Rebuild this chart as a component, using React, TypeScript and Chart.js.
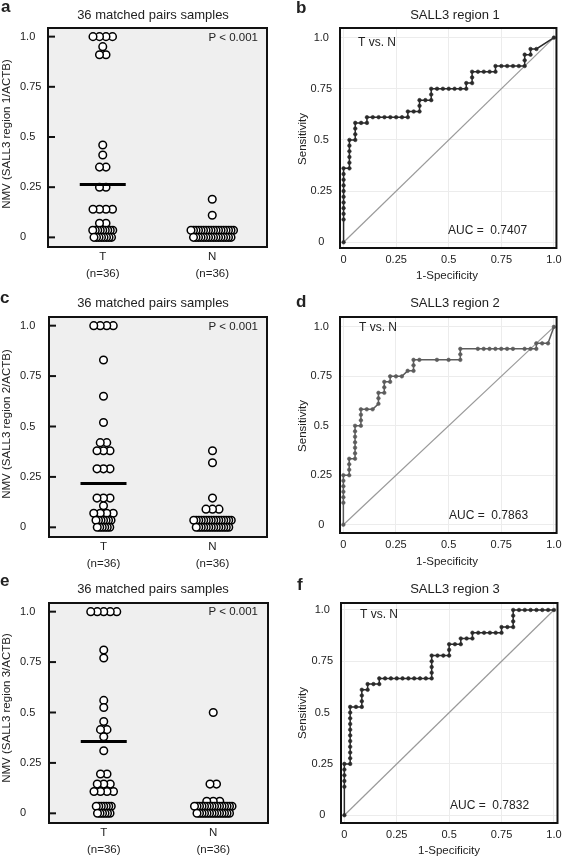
import React, { useEffect, useRef } from 'react';
import { Chart, registerables } from 'chart.js';

Chart.register(...registerables);

// ---------------- data ----------------
const groupLabels = [['T', '(n=36)'], ['N', '(n=36)']];
const scatterTitle = '36 matched pairs samples';
const pValueText = 'P < 0.001';
const nmvAxisTitles = ['NMV (SALL3 region 1/ACTB)', 'NMV (SALL3 region 2/ACTB)', 'NMV (SALL3 region 3/ACTB)'];
const yTickValues = [0, 0.25, 0.5, 0.75, 1];

// normalized methylation values, tumour (T) and normal (N)
const nmvRegion1T = [1, 1, 1, 1, 0.95, 0.91, 0.91, 0.46, 0.41, 0.35, 0.35, 0.25, 0.25, 0.14, 0.14, 0.14, 0.14, 0.07, 0.07,
  0.035, 0.035, 0.035, 0.035, 0.035, 0.035, 0.035, 0.035, 0.035, 0, 0, 0, 0, 0, 0, 0, 0];
const nmvRegion1N = [0.19, 0.11,
  0.035, 0.035, 0.035, 0.035, 0.035, 0.035, 0.035, 0.035, 0.035, 0.035, 0.035, 0.035, 0.035, 0.035, 0.035, 0.035, 0.035, 0.035,
  0, 0, 0, 0, 0, 0, 0, 0, 0, 0, 0, 0, 0, 0, 0, 0];
const nmvRegion2T = [1, 1, 1, 1, 0.83, 0.65, 0.52, 0.42, 0.42, 0.38, 0.38, 0.38, 0.29, 0.29, 0.29, 0.145, 0.145, 0.145, 0.107,
  0.07, 0.07, 0.07, 0.07, 0.035, 0.035, 0.035, 0.035, 0.035, 0.035, 0.035, 0, 0, 0, 0, 0, 0];
const nmvRegion2N = [0.38, 0.32, 0.145, 0.09, 0.09, 0.09,
  0.035, 0.035, 0.035, 0.035, 0.035, 0.035, 0.035, 0.035, 0.035, 0.035, 0.035, 0.035, 0.035, 0.035, 0.035, 0.035,
  0, 0, 0, 0, 0, 0, 0, 0, 0, 0, 0, 0, 0, 0];
const nmvRegion3T = [1, 1, 1, 1, 1, 0.81, 0.77, 0.56, 0.525, 0.455, 0.415, 0.415, 0.38, 0.31, 0.195, 0.195, 0.145, 0.145, 0.145,
  0.108, 0.108, 0.108, 0.108, 0.035, 0.035, 0.035, 0.035, 0.035, 0.035, 0.035, 0, 0, 0, 0, 0, 0];
const nmvRegion3N = [0.5, 0.145, 0.145, 0.06, 0.06, 0.06,
  0.035, 0.035, 0.035, 0.035, 0.035, 0.035, 0.035, 0.035, 0.035, 0.035, 0.035, 0.035, 0.035, 0.035, 0.035, 0.035,
  0, 0, 0, 0, 0, 0, 0, 0, 0, 0, 0, 0, 0, 0];
const nmvMeans = [0.263, 0.217, 0.356];

// ROC curves: counts of N (false positives) and T (true positives) out of 36
const rocTotal = 36;
const rocTitles = ['SALL3 region 1', 'SALL3 region 2', 'SALL3 region 3'];
const rocCompare = 'T vs. N';
const rocAuc = ['AUC =  0.7407', 'AUC =  0.7863', 'AUC =  0.7832'];
const rocXTitle = '1-Specificity';
const rocYTitle = 'Sensitivity';
const rocTickValues = [0, 0.25, 0.5, 0.75, 1];

const roc1Fp = [0, 0, 0, 0, 0, 0, 0, 0, 0, 0, 0, 1, 1, 1, 1, 1, 1, 2, 2, 2, 2, 3, 4, 4, 5, 6, 7, 8, 9, 10, 11, 11, 12, 13, 13, 13,
  14, 15, 15, 15, 16, 17, 18, 19, 20, 21, 21, 22, 22, 22, 23, 24, 25, 26, 26, 27, 28, 29, 30, 31, 31, 31, 32, 32, 33, 36];
const roc1Tp = [0, 4, 5, 6, 7, 8, 9, 10, 11, 12, 13, 13, 14, 15, 16, 17, 18, 18, 19, 20, 21, 21, 21, 22, 22, 22, 22, 22, 22, 22, 22, 23,
  23, 23, 24, 25, 25, 25, 26, 27, 27, 27, 27, 27, 27, 27, 28, 28, 29, 30, 30, 30, 30, 30, 31, 31, 31, 31, 31, 31, 32, 33, 33, 34, 34, 36];
const roc2Fp = [0, 0, 0, 0, 0, 0, 0, 1, 1, 1, 1, 2, 2, 2, 2, 2, 2, 2, 3, 3, 3, 3, 4, 5, 6, 6, 6, 7, 7, 7, 8, 8, 9, 10, 11, 12, 12, 12,
  13, 16, 18, 20, 20, 20, 23, 24, 25, 26, 27, 28, 29, 31, 32, 33, 33, 34, 35, 36];
const roc2Tp = [0, 4, 5, 6, 7, 8, 9, 9, 10, 11, 12, 12, 13, 14, 15, 16, 17, 18, 18, 19, 20, 21, 21, 21, 22, 23, 24, 24, 25, 26, 26, 27,
  27, 27, 28, 28, 29, 30, 30, 30, 30, 30, 31, 32, 32, 32, 32, 32, 32, 32, 32, 32, 32, 32, 33, 33, 33, 36];
const roc3Fp = [0, 0, 0, 0, 0, 0, 1, 1, 1, 1, 1, 1, 1, 1, 1, 1, 1, 2, 3, 3, 3, 3, 4, 4, 5, 6, 6, 7, 8, 9, 10, 11, 12, 13, 14, 15,
  15, 15, 15, 15, 16, 17, 18, 18, 18, 19, 20, 20, 21, 22, 22, 23, 24, 25, 26, 27, 27, 28, 29, 29, 29, 29, 30, 31, 32, 33, 34, 35, 36];
const roc3Tp = [0, 5, 6, 7, 8, 9, 9, 10, 11, 12, 13, 14, 15, 16, 17, 18, 19, 19, 19, 20, 21, 22, 22, 23, 23, 23, 24, 24, 24, 24, 24, 24,
  24, 24, 24, 24, 25, 26, 27, 28, 28, 28, 28, 29, 30, 30, 30, 31, 31, 31, 32, 32, 32, 32, 32, 32, 33, 33, 33, 34, 35, 36, 36, 36, 36,
  36, 36, 36, 36];

// ---------------- layout / style ----------------
const FONT = '"Liberation Sans", Arial, Helvetica, sans-serif';
const TEXT = '#222';

type Cell = { x: number; y: number; w: number; h: number };
type Box = { l: number; t: number; r: number; b: number };

interface ScatterSpec {
  kind: 'scatter';
  letter: string;
  cell: Cell;
  box: Box;
  letterPos: [number, number];
  titlePos: [number, number];
  yTitlePos: [number, number];
  pPos: [number, number];
  t: number[];
  n: number[];
  mean: number;
  yTitle: string;
}

interface RocSpec {
  kind: 'roc';
  letter: string;
  cell: Cell;
  box: Box;
  letterPos: [number, number];
  titlePos: [number, number];
  yTitlePos: [number, number];
  xTitlePos: [number, number];
  cmpPos: [number, number];
  aucPos: [number, number];
  fp: number[];
  tp: number[];
  title: string;
  auc: string;
  color: string;
  xRange: [number, number];
  yRange: [number, number];
}

const scatterSpecs: ScatterSpec[] = [
  { kind: 'scatter', letter: 'a', cell: { x: 0, y: 0, w: 283, h: 285 }, box: { l: 48, t: 28, r: 267, b: 247 },
    letterPos: [1, 12], titlePos: [153, 15], yTitlePos: [7, 134], pPos: [258, 38],
    t: nmvRegion1T, n: nmvRegion1N, mean: nmvMeans[0], yTitle: nmvAxisTitles[0] },
  { kind: 'scatter', letter: 'c', cell: { x: 0, y: 285, w: 283, h: 286 }, box: { l: 49, t: 317, r: 267, b: 537 },
    letterPos: [0, 303], titlePos: [153, 303], yTitlePos: [7, 424], pPos: [258, 327],
    t: nmvRegion2T, n: nmvRegion2N, mean: nmvMeans[1], yTitle: nmvAxisTitles[1] },
  { kind: 'scatter', letter: 'e', cell: { x: 0, y: 571, w: 283, h: 285 }, box: { l: 49, t: 603, r: 268, b: 823 },
    letterPos: [0, 586], titlePos: [153, 589], yTitlePos: [7, 708], pPos: [258, 612],
    t: nmvRegion3T, n: nmvRegion3N, mean: nmvMeans[2], yTitle: nmvAxisTitles[2] },
];

const rocSpecs: RocSpec[] = [
  { kind: 'roc', letter: 'b', cell: { x: 283, y: 0, w: 284, h: 285 }, box: { l: 340, t: 28, r: 564, b: 248 },
    letterPos: [296, 13], titlePos: [455, 15], yTitlePos: [303, 139], xTitlePos: [447, 276],
    cmpPos: [358, 43], aucPos: [448, 231], fp: roc1Fp, tp: roc1Tp, title: rocTitles[0], auc: rocAuc[0],
    color: '#2a2a2a', xRange: [-0.017, 1.012], yRange: [-0.028, 1.047] },
  { kind: 'roc', letter: 'd', cell: { x: 283, y: 285, w: 284, h: 286 }, box: { l: 340, t: 317, r: 560, b: 533 },
    letterPos: [296, 307], titlePos: [455, 303], yTitlePos: [303, 426], xTitlePos: [447, 562],
    cmpPos: [359, 328], aucPos: [449, 516], fp: roc2Fp, tp: roc2Tp, title: rocTitles[1], auc: rocAuc[1],
    color: '#5c5c5c', xRange: [-0.016, 1.013], yRange: [-0.042, 1.05] },
  { kind: 'roc', letter: 'f', cell: { x: 283, y: 571, w: 284, h: 285 }, box: { l: 341, t: 603, r: 566, b: 823 },
    letterPos: [297, 590], titlePos: [455, 589], yTitlePos: [303, 713], xTitlePos: [449, 851],
    cmpPos: [360, 615], aucPos: [450, 806], fp: roc3Fp, tp: roc3Tp, title: rocTitles[2], auc: rocAuc[2],
    color: '#2a2a2a', xRange: [-0.016, 1.017], yRange: [-0.038, 1.034] },
];

const SCATTER_X: [number, number] = [0, 2];
const SCATTER_Y: [number, number] = [-0.048, 1.043];
const GROUP_CENTERS = [0.5, 1.5];
const MEAN_HALF_PX = 23;

// beeswarm-like spreading of equal values side by side
function swarm(values: number[], center: number, unitsPerPx: number) {
  const counts = new Map<number, number>();
  values.forEach((v) => counts.set(v, (counts.get(v) || 0) + 1));
  const keys = Array.from(counts.keys()).sort((a, b) => b - a);
  const pts: { x: number; y: number }[] = [];
  keys.forEach((v) => {
    const n = counts.get(v) as number;
    const sp = (n >= 6 ? 2.5 : 6.5) * unitsPerPx;
    for (let i = n - 1; i >= 0; i--) pts.push({ x: center + (i - (n - 1) / 2) * sp, y: v });
  });
  return pts;
}

function fmtTick(v: number) {
  if (v === 0) return '0';
  if (v === 1) return '1.0';
  return String(v);
}

function text(ctx: CanvasRenderingContext2D, s: string, x: number, y: number, font: string,
  align: CanvasTextAlign, baseline: CanvasTextBaseline, rot = 0) {
  ctx.save();
  ctx.font = font;
  ctx.fillStyle = TEXT;
  ctx.textAlign = align;
  ctx.textBaseline = baseline;
  ctx.translate(x, y);
  if (rot) ctx.rotate(rot);
  ctx.fillText(s, 0, 0);
  ctx.restore();
}

function makeConfig(spec: ScatterSpec | RocSpec): any {
  const { cell, box } = spec;
  const ox = cell.x;
  const oy = cell.y;
  const isScatter = spec.kind === 'scatter';
  const padLeft = isScatter ? 20 : 0;
  const yAxisW = box.l - cell.x - padLeft;
  const xAxisH = cell.y + cell.h - box.b;

  const deco = {
    id: 'deco' + spec.letter,
    beforeDraw(chart: any) {
      const { ctx, chartArea: a } = chart;
      ctx.save();
      ctx.fillStyle = isScatter ? '#efefef' : '#ffffff';
      ctx.fillRect(a.left, a.top, a.right - a.left, a.bottom - a.top);
      ctx.restore();
    },
    afterDraw(chart: any) {
      const { ctx, chartArea: a } = chart;
      ctx.save();
      ctx.strokeStyle = '#111';
      ctx.lineWidth = 2;
      ctx.strokeRect(a.left, a.top, a.right - a.left, a.bottom - a.top);
      if (isScatter) {
        const ys = chart.scales.y;
        yTickValues.forEach((v) => {
          const py = ys.getPixelForValue(v);
          ctx.beginPath();
          ctx.moveTo(a.left, py);
          ctx.lineTo(a.left + 7, py);
          ctx.stroke();
        });
      }
      ctx.restore();
      const lx = spec.letterPos[0] - ox;
      const ly = spec.letterPos[1] - oy;
      text(ctx, spec.letter, lx, ly, `bold 17px ${FONT}`, 'left', 'alphabetic');
      const titleStr = isScatter ? scatterTitle : (spec as RocSpec).title;
      text(ctx, titleStr, spec.titlePos[0] - ox, spec.titlePos[1] - oy, `13px ${FONT}`, 'center', 'middle');
      const yTitle = isScatter ? (spec as ScatterSpec).yTitle : rocYTitle;
      text(ctx, yTitle, spec.yTitlePos[0] - ox, spec.yTitlePos[1] - oy, `11.5px ${FONT}`, 'center', 'middle', -Math.PI / 2);
      if (isScatter) {
        const s = spec as ScatterSpec;
        text(ctx, pValueText, s.pPos[0] - ox, s.pPos[1] - oy, `11.5px ${FONT}`, 'right', 'middle');
      } else {
        const r = spec as RocSpec;
        text(ctx, rocXTitle, r.xTitlePos[0] - ox, r.xTitlePos[1] - oy, `11.5px ${FONT}`, 'center', 'middle');
        text(ctx, rocCompare, r.cmpPos[0] - ox, r.cmpPos[1] - oy, `12px ${FONT}`, 'left', 'middle');
        text(ctx, r.auc, r.aucPos[0] - ox, r.aucPos[1] - oy, `12px ${FONT}`, 'left', 'middle');
      }
    },
  };

  const layout = {
    autoPadding: false,
    padding: { left: padLeft, top: box.t - cell.y, right: cell.x + cell.w - box.r, bottom: 0 },
  };

  let datasets: any[];
  let xScale: any;
  let yScale: any;

  if (isScatter) {
    const s = spec as ScatterSpec;
    const unitsPerPx = (SCATTER_X[1] - SCATTER_X[0]) / (box.r - box.l);
    const half = MEAN_HALF_PX * unitsPerPx;
    const pts = [...swarm(s.t, GROUP_CENTERS[0], unitsPerPx), ...swarm(s.n, GROUP_CENTERS[1], unitsPerPx)];
    datasets = [
      {
        data: [{ x: GROUP_CENTERS[0] - half, y: s.mean }, { x: GROUP_CENTERS[0] + half, y: s.mean }],
        showLine: true, borderColor: '#000', borderWidth: 3, pointRadius: 0, borderCapStyle: 'butt',
      },
      {
        data: pts, showLine: false, pointRadius: 3.8, pointBorderWidth: 1.5,
        pointBorderColor: '#000', pointBackgroundColor: '#fff',
      },
    ];
    xScale = {
      type: 'linear', min: SCATTER_X[0], max: SCATTER_X[1],
      grid: { display: false, drawTicks: false }, border: { display: false },
      afterBuildTicks: (sc: any) => { sc.ticks = GROUP_CENTERS.map((v) => ({ value: v })); },
      afterFit: (sc: any) => { sc.height = xAxisH; },
      ticks: {
        padding: 1.5, color: TEXT, maxRotation: 0, autoSkip: false,
        font: { family: FONT, size: 11.5, lineHeight: 17 / 11.5 },
        callback: (_v: any, i: number) => groupLabels[i],
      },
    };
    yScale = {
      type: 'linear', min: SCATTER_Y[0], max: SCATTER_Y[1],
      grid: { display: false, drawTicks: false }, border: { display: false },
      afterBuildTicks: (sc: any) => { sc.ticks = yTickValues.map((v) => ({ value: v })); },
      afterFit: (sc: any) => { sc.width = yAxisW; },
      ticks: {
        crossAlign: 'far', color: TEXT, autoSkip: false,
        font: { family: FONT, size: 11 },
        callback: (v: any) => fmtTick(v),
      },
    };
  } else {
    const r = spec as RocSpec;
    const curve = r.fp.map((f, i) => ({ x: f / rocTotal, y: r.tp[i] / rocTotal }));
    datasets = [
      {
        data: curve, showLine: true, borderColor: r.color, borderWidth: 1.5, tension: 0,
        pointRadius: 1.8, pointBorderWidth: 0.6, pointBorderColor: r.color, pointBackgroundColor: r.color,
      },
      {
        data: [{ x: 0, y: 0 }, { x: 1, y: 1 }], showLine: true, borderColor: '#9a9a9a', borderWidth: 1.2, pointRadius: 0,
      },
    ];
    xScale = {
      type: 'linear', min: r.xRange[0], max: r.xRange[1],
      grid: { color: '#ececec', lineWidth: 1, drawTicks: false }, border: { display: false },
      afterBuildTicks: (sc: any) => { sc.ticks = rocTickValues.map((v) => ({ value: v })); },
      afterFit: (sc: any) => { sc.height = xAxisH; },
      ticks: {
        padding: 5.4, color: TEXT, maxRotation: 0, autoSkip: false,
        font: { family: FONT, size: 11, lineHeight: 1.2 },
        callback: (v: any) => fmtTick(v),
      },
    };
    yScale = {
      type: 'linear', min: r.yRange[0], max: r.yRange[1],
      grid: { color: '#ececec', lineWidth: 1, drawTicks: false }, border: { display: false },
      afterBuildTicks: (sc: any) => { sc.ticks = rocTickValues.map((v) => ({ value: v })); },
      afterFit: (sc: any) => { sc.width = yAxisW; },
      ticks: {
        crossAlign: 'center', padding: 8, color: TEXT, autoSkip: false,
        font: { family: FONT, size: 11 },
        callback: (v: any) => fmtTick(v),
      },
    };
  }

  return {
    type: 'scatter',
    data: { datasets },
    options: {
      responsive: false,
      animation: false,
      devicePixelRatio: 1,
      layout,
      plugins: { legend: { display: false }, tooltip: { enabled: false }, title: { display: false } },
      scales: { x: xScale, y: yScale },
    },
    plugins: [deco],
  };
}

function Panel({ spec }: { spec: ScatterSpec | RocSpec }) {
  const ref = useRef<HTMLCanvasElement>(null);
  useEffect(() => {
    if (!ref.current) return;
    const chart = new Chart(ref.current, makeConfig(spec));
    return () => chart.destroy();
  }, [spec]);
  const { cell } = spec;
  return (
    <canvas
      ref={ref}
      width={cell.w}
      height={cell.h}
      style={{ position: 'absolute', left: cell.x, top: cell.y, width: cell.w, height: cell.h, display: 'block' }}
    />
  );
}

export default function App() {
  return (
    <div style={{ position: 'fixed', left: 0, top: 0, width: 567, height: 856, background: '#fff', overflow: 'hidden' }}>
      {scatterSpecs.map((s) => <Panel key={s.letter} spec={s} />)}
      {rocSpecs.map((s) => <Panel key={s.letter} spec={s} />)}
    </div>
  );
}
